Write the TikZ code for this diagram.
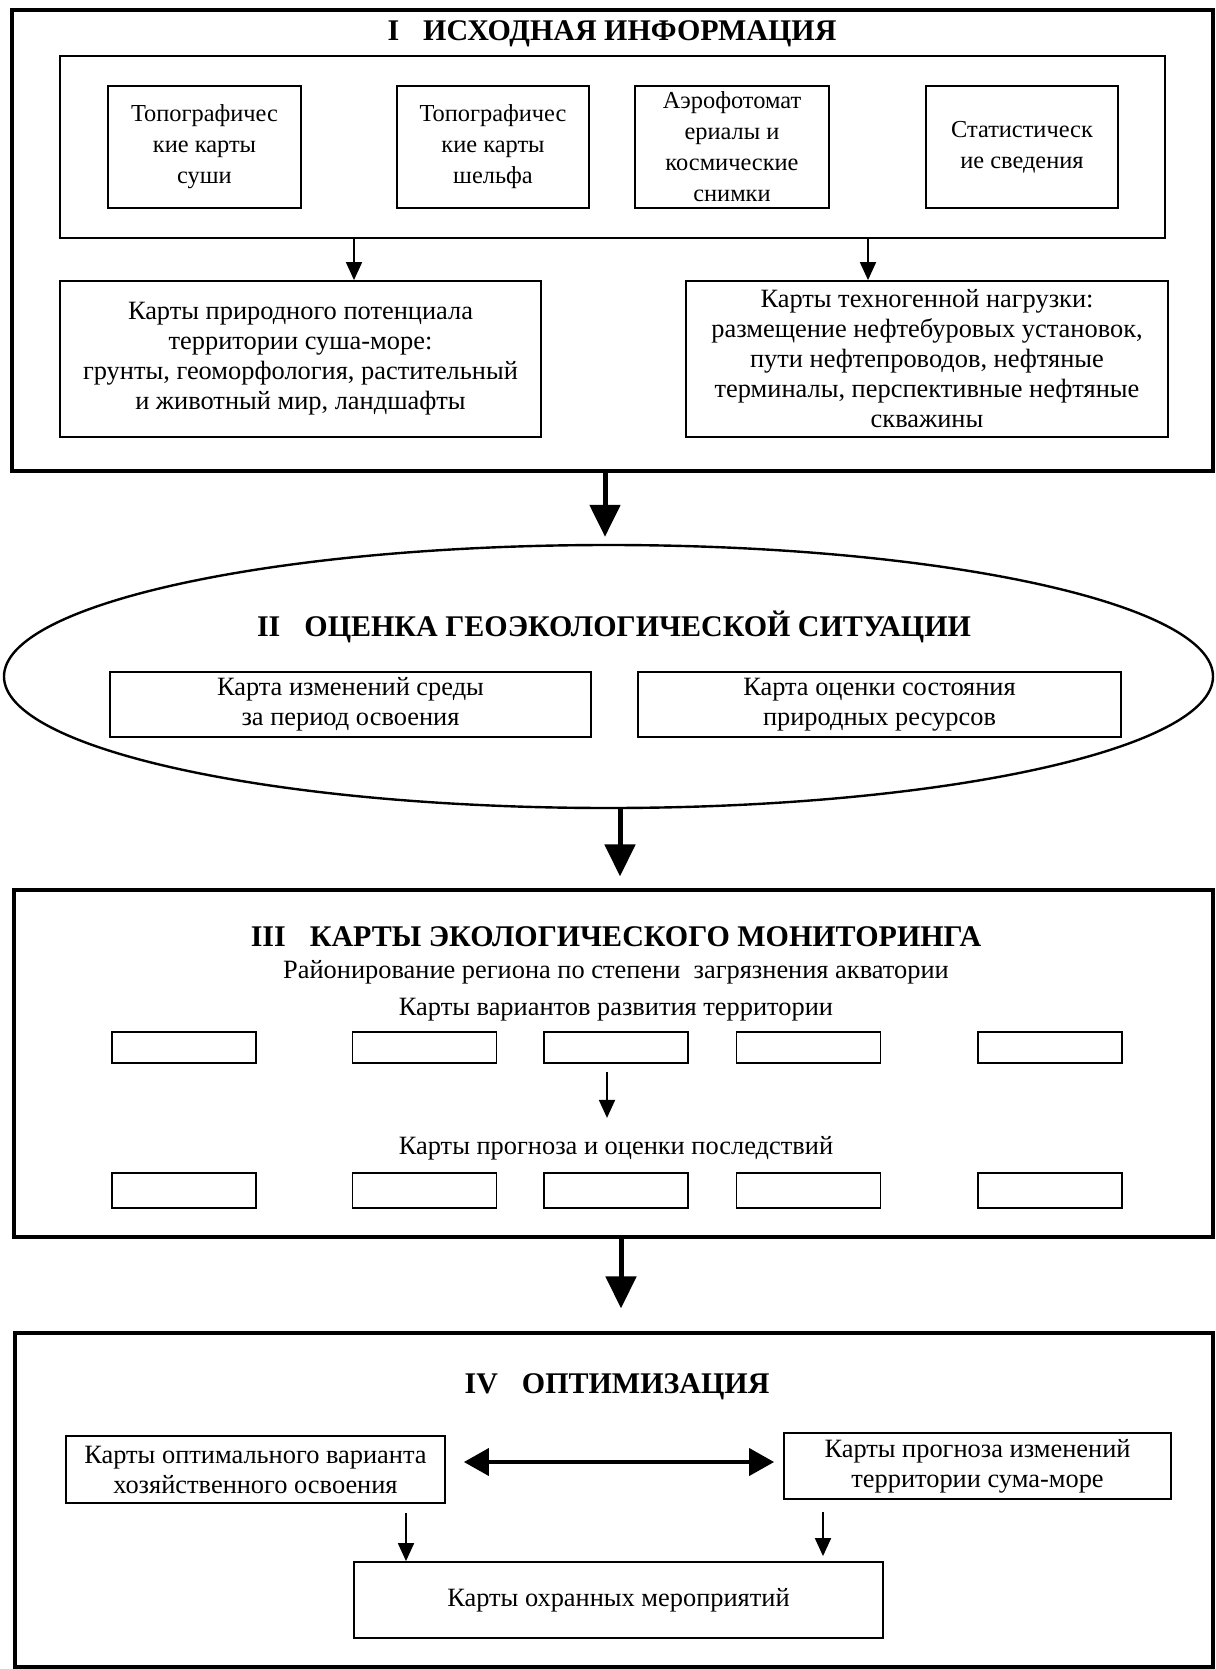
\documentclass[tikz,border=0pt]{standalone}
\usepackage{fontspec}
\setmainfont{Liberation Serif}
\usepackage{tikz}
\usetikzlibrary{arrows.meta}
\usetikzlibrary{shapes.geometric}

\begin{document}
\begin{tikzpicture}[x=0.5pt, y=-0.5pt,
    txt/.style={font=\fontsize{13.2}{15}\selectfont, align=center},
    ttl/.style={font=\bfseries\fontsize{15}{17}\selectfont},
    stagebox/.style={draw, line width=1.6pt, inner sep=0pt},
    panel/.style={draw, line width=1.3pt, inner sep=0pt},
    card/.style={draw, line width=0.9pt, inner sep=0pt, txt},
    srccard/.style={card, font=\fontsize{12.2}{15.5}\selectfont, minimum height=61pt},
    thinarrow/.style={line width=0.9pt, -{Triangle[length=9pt, width=8pt]}},
    bigarrow/.style={line width=2.5pt, -{Triangle[length=16pt, width=15pt]}},
    dblarrow/.style={line width=2pt, {Triangle[length=12.5pt, width=13.5pt]}-{Triangle[length=12.5pt, width=13.5pt]}}]
    \useasboundingbox (0, 0) rectangle (1215, 1669);

    % I
    \node[stagebox, minimum width=600.5pt, minimum height=230.5pt] (stageI) at (612.5, 240.5) {};
    \node[ttl] (ttlI) at (612, 34) {I\hspace{0.8em}ИСХОДНАЯ ИНФОРМАЦИЯ};
    \node[panel, minimum width=552.5pt, minimum height=91pt] (sources) at (612.5, 147) {};
    \node[srccard, minimum width=96.5pt] (topoLand) at (204.5, 147) {Топографичес\\кие карты\\суши};
    \node[srccard, minimum width=96pt] (topoShelf) at (493, 147) {Топографичес\\кие карты\\шельфа};
    \node[srccard, minimum width=97pt] (aerial) at (732, 147) {Аэрофотомат\\ериалы и\\космические\\снимки};
    \node[srccard, minimum width=96pt] (stats) at (1022, 147) {Статистическ\\ие сведения};
    \node[card, minimum width=240.5pt, minimum height=78pt] (natPot) at (300.5, 359) {Карты природного потенциала\\территории суша-море:\\грунты, геоморфология, растительный\\и животный мир, ландшафты};
    \node[card, minimum width=241pt, minimum height=78pt] (techLoad) at (927, 359) {Карты техногенной нагрузки:\\размещение нефтебуровых установок,\\пути нефтепроводов, нефтяные\\терминалы, перспективные нефтяные\\скважины};
    \coordinate (inNat) at ([xshift=26.75pt]natPot.north);
    \coordinate (inTech) at ([xshift=-29.5pt]techLoad.north);
    \draw[thinarrow] (sources.south -| inNat) -- (inNat);
    \draw[thinarrow] (sources.south -| inTech) -- (inTech);

    % II
    \node[draw, ellipse, line width=1.2pt, inner sep=0pt, minimum width=604.5pt, minimum height=131.5pt] (assess) at (608.5, 676.5) {};
    \node[ttl] (ttlII) at (614, 627) {II\hspace{0.8em}ОЦЕНКА ГЕОЭКОЛОГИЧЕСКОЙ СИТУАЦИИ};
    \node[card, minimum width=240.5pt, minimum height=32.5pt] (envChange) at (350.5, 704.5) {Карта изменений среды\\за период освоения};
    \node[card, minimum width=241.5pt, minimum height=32.5pt] (resState) at (879.5, 704.5) {Карта оценки состояния\\природных ресурсов};
    \coordinate (inII) at ([xshift=-1.75pt, yshift=3.5pt]assess.north);
    \draw[bigarrow] (stageI.south -| inII) -- (inII);

    % III
    \node[stagebox, minimum width=599.5pt, minimum height=173.5pt] (stageIII) at (613.5, 1063.5) {};
    \node[ttl] (ttlIII) at (616, 937) {III\hspace{0.8em}КАРТЫ ЭКОЛОГИЧЕСКОГО МОНИТОРИНГА};
    \node[txt] (zoning) at (616, 972) {Районирование региона по степени\ \ загрязнения акватории};
    \node[txt] (variants) at (616, 1010) {Карты вариантов развития территории};
    \node[txt] (prognoz) at (616, 1148) {Карты прогноза и оценки последствий};
    \foreach \cx [count=\i] in {184, 424.5, 616, 808.5, 1050} {
        \node[card, minimum width=72pt, minimum height=15.5pt] (v\i) at (\cx, 1047.5) {};
        \node[card, minimum width=72pt, minimum height=17.5pt] (p\i) at (\cx, 1190.5) {};
    }
    \coordinate (vp) at ([xshift=-4.5pt, yshift=-27pt]v3.south);
    \draw[thinarrow] ([xshift=-4.5pt, yshift=-4pt]v3.south) -- (vp);
    \coordinate (inIII) at ([xshift=3.25pt, yshift=6pt]stageIII.north);
    \draw[bigarrow] (assess.south -| inIII) -- (inIII);

    % IV
    \node[stagebox, minimum width=599pt, minimum height=167pt] (stageIV) at (614, 1500) {};
    \node[ttl] (ttlIV) at (617, 1387) {IV\hspace{0.8em}ОПТИМИЗАЦИЯ};
    \node[card, minimum width=189.5pt, minimum height=33.5pt] (optVar) at (255.5, 1469.5) {Карты оптимального варианта\\хозяйственного освоения};
    \node[card, minimum width=193.5pt, minimum height=33pt] (changes) at (977.5, 1466) {Карты прогноза изменений\\территории сума-море};
    \node[card, minimum width=264.5pt, minimum height=38pt] (protect) at (618.5, 1600) {Карты охранных мероприятий};
    \coordinate (inIV) at ([xshift=3.5pt, yshift=11.5pt]stageIV.north);
    \draw[bigarrow] (stageIII.south -| inIV) -- (inIV);
    \draw[dblarrow] ([xshift=9pt, yshift=3.75pt]optVar.east) -- ([xshift=-4.5pt, yshift=2pt]changes.west);
    \coordinate (outOpt) at ([xshift=75.25pt, yshift=-4.5pt]optVar.south);
    \coordinate (outChg) at ([xshift=-77.25pt, yshift=-6pt]changes.south);
    \draw[thinarrow] (outOpt) -- (outOpt |- protect.north);
    \draw[thinarrow] (outChg) -- ([yshift=2.5pt]outChg |- protect.north);
\end{tikzpicture}
\end{document}
